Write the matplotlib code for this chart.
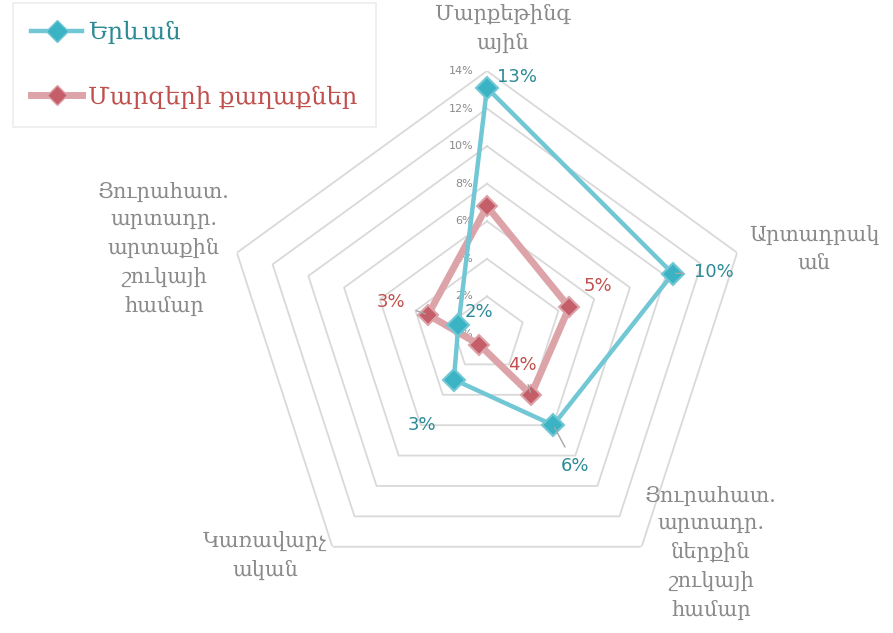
import numpy as np
import matplotlib
matplotlib.use("Agg")
import matplotlib.pyplot as plt
from matplotlib.lines import Line2D

plt.rcParams['font.family'] = ['DejaVu Serif', 'DejaVu Sans']

# ---------------- data ----------------
categories = [
    "Մարքեթինգ\nային",
    "Արտադրակ\nան",
    "Յուրահատ.\nարտադր.\nներքին\nշուկայի\nհամար",
    "Կառավարչ\nական",
    "Յուրահատ.\nարտադր.\nարտաքին\nշուկայի\nհամար",
]
series_names = ["Երևան", "Մարզերի քաղաքներ"]
yerevan = [13.1, 10.4, 6.0, 3.0, 1.6]
regions = [6.8, 4.6, 4.0, 0.7, 3.3]
tick_values = [0, 2, 4, 6, 8, 10, 12, 14]
tick_labels = ["0%", "2%", "4%", "6%", "8%", "10%", "12%", "14%"]
yerevan_label_shown = [True, True, True, True, True]
regions_label_shown = [False, True, True, False, True]

# ---------------- style ----------------
W, H = 893, 633
teal_line = "#72C7D5"
teal_marker = "#3AB4C4"
teal_text = "#2B8A95"
red_line = "#DCA4A9"
red_marker = "#C45F69"
red_text = "#C0504D"
grid_col = "#D9D9D9"
gray_text = "#8A8A8A"

fig = plt.figure(figsize=(W / 100, H / 100), dpi=100)
cx, cy, R = 487, 334, 263
ax = fig.add_axes([(cx - R) / W, 1 - (cy + R) / H, 2 * R / W, 2 * R / H],
                  projection="polar")
ax.set_theta_offset(np.pi / 2)
ax.set_theta_direction(-1)
ax.set_ylim(0, tick_values[-1])
ax.grid(False)
ax.spines["polar"].set_visible(False)
ax.set_xticks([])
ax.set_yticks([])
ax.patch.set_alpha(0)

n = len(categories)
theta = np.arange(n) * 2 * np.pi / n
theta_c = np.append(theta, theta[0])

# pentagon rings
for v in tick_values[1:]:
    ax.plot(theta_c, [v] * (n + 1), color=grid_col, lw=1.3, zorder=1)

# tick labels
for v, lbl in zip(tick_values, tick_labels):
    ax.annotate(lbl, xy=(0, v), xytext=(-10, 0), textcoords="offset points",
                ha="right", va="center", fontsize=8, color=gray_text,
                family=["DejaVu Sans"], zorder=2)

# series
def close(vals):
    return list(vals) + [vals[0]]

ax.plot(theta_c, close(regions), color=red_line, lw=5, zorder=3,
        solid_joinstyle="miter")
ax.plot(theta, regions, ls="none", marker="D", ms=10, mfc=red_marker,
        mec=red_line, mew=1.5, zorder=4)
ax.plot(theta_c, close(yerevan), color=teal_line, lw=3.2, zorder=5,
        solid_joinstyle="miter")
ax.plot(theta, yerevan, ls="none", marker="D", ms=11, mfc=teal_marker,
        mec=teal_line, mew=1.5, zorder=6)

# data labels (offsets in pixels: dx right, dy up)
yer_off = [(30, 11), (41, 2), (22, -41), (-32, -45), (21, 13)]
yer_leader = [False, True, True, False, False]
reg_off = [(0, 0), (29, 21), (-9, 30), (0, 0), (-37, 13)]
reg_leader = [False, False, True, False, True]

def put_labels(vals, shown, offs, leaders, color):
    for t, v, s, (dx, dy), ld in zip(theta, vals, shown, offs, leaders):
        if not s:
            continue
        ap = dict(arrowstyle="-", color="#A6A6A6", lw=1.0, shrinkA=6, shrinkB=2) if ld else None
        ax.annotate(f"{v:.0f}%", xy=(t, v), xytext=(dx * 0.72, dy * 0.72),
                    textcoords="offset points", ha="center", va="center",
                    fontsize=13, color=color, family=["DejaVu Sans"],
                    arrowprops=ap, zorder=7)

put_labels(yerevan, yerevan_label_shown, yer_off, yer_leader, teal_text)
put_labels(regions, regions_label_shown, reg_off, reg_leader, red_text)

# category labels
cat_pos = [(503, 28), (814, 249), (711, 553), (265, 555), (164, 249)]
for lbl, (px, py) in zip(categories, cat_pos):
    fig.text(px / W, 1 - py / H, lbl, ha="center", va="center", fontsize=15,
             color=gray_text, linespacing=1.55)

# legend
handles = [
    Line2D([], [], color=teal_line, lw=3.2, marker="D", ms=11, mfc=teal_marker, mec=teal_line),
    Line2D([], [], color=red_line, lw=5, marker="D", ms=10, mfc=red_marker, mec=red_line),
]
leg = fig.legend(handles, series_names, loc="upper left",
                 bbox_to_anchor=(13 / W, 1 - 3 / H), fontsize=17.5,
                 labelcolor=[teal_text, red_text], frameon=True, fancybox=False,
                 edgecolor="#E8E8E8", labelspacing=1.7, handlelength=2.1,
                 handletextpad=0.25, borderpad=0.75, borderaxespad=0)
leg.get_frame().set_linewidth(1.2)

fig.savefig("out.png", dpi=100)
